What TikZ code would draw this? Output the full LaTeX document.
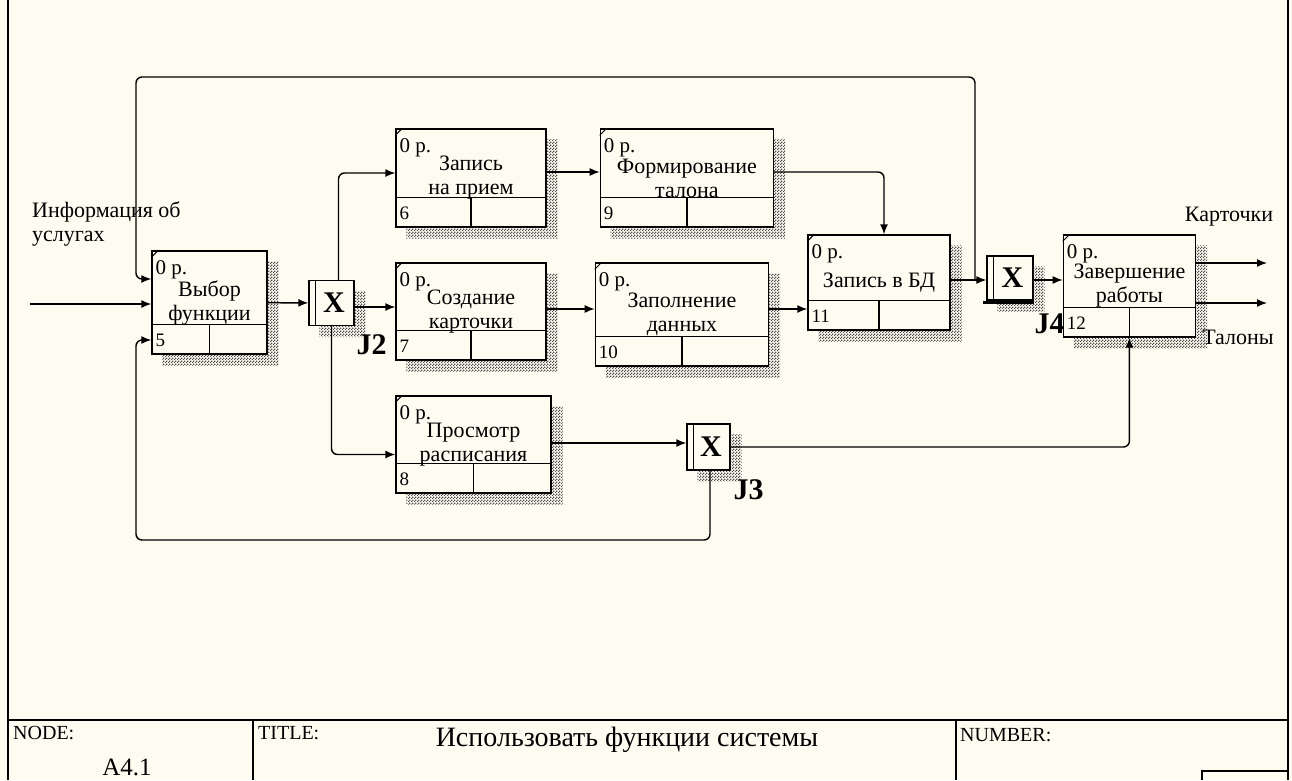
\documentclass[tikz,border=0pt]{standalone}
\usepackage{fontspec}
\setmainfont{Liberation Serif}
\usetikzlibrary{arrows.meta, positioning, patterns}
\definecolor{sheet}{HTML}{FEFBF1}
\pgfdeclarepatternformonly{checker}{\pgfqpoint{0pt}{0pt}}{\pgfqpoint{3pt}{3pt}}{\pgfqpoint{3pt}{3pt}}{%
    \pgfpathrectangle{\pgfqpoint{0pt}{0pt}}{\pgfqpoint{1.5pt}{1.5pt}}%
    \pgfpathrectangle{\pgfqpoint{1.5pt}{1.5pt}}{\pgfqpoint{1.5pt}{1.5pt}}%
    \pgfusepath{fill}}

\begin{document}
\begin{tikzpicture}[
        x=1pt, y=-1pt,
        uob/.style={rectangle, draw=black, line width=1.4pt, fill=sheet, inner sep=0pt, align=center, font=\fontsize{22}{24}\selectfont},
        junc/.style={rectangle, draw=black, line width=1.4pt, fill=sheet, inner sep=0pt, minimum width=45pt, minimum height=45pt, font=\fontsize{30}{30}\selectfont\bfseries},
        hatchshadow/.style={pattern=checker, pattern color=black!70},
        arrow/.style={-{Latex[length=10pt, width=8pt]}, line width=1.4pt, rounded corners=6pt},
        cost/.style={anchor=west, inner sep=0pt, font=\fontsize{21}{21}\selectfont},
        num/.style={anchor=west, inner sep=0pt, font=\fontsize{19}{19}\selectfont},
        jlabel/.style={inner sep=0pt, font=\fontsize{30}{30}\selectfont\bfseries},
        flowlabel/.style={inner sep=0pt, align=left, font=\fontsize{22}{24}\selectfont},
        tag/.style={anchor=west, inner sep=0pt, font=\fontsize{20}{20}\selectfont}
    ]
        \useasboundingbox (0,0) rectangle (1292,780);
        \fill[sheet] (0,0) rectangle (1292,780);

        % Frame
        \draw[line width=1.5pt] (8,0) -- (8,780);
        \draw[line width=1.5pt] (1288,0) -- (1288,780);
        \draw[line width=1.5pt] (8,720) -- (1288,720);
        \draw[line width=1.5pt] (253,720) -- (253,780);
        \draw[line width=1.5pt] (956,720) -- (956,780);
        \draw[line width=1.5pt] (1202,780) |- (1288,771);

        % Nodes
        \node (b5) [uob, minimum width=115pt, minimum height=103pt] at (209.5,302.5) {Выбор\\функции};
        \node (j2) [junc] at (331.5,303) {\hspace*{5pt}X};
        \node (b6) [uob, minimum width=150pt, minimum height=98pt] at (471,178) {Запись\\на прием};
        \node (b9) [uob, minimum width=173pt, minimum height=98pt, right=53pt of b6] {Формирование\\талона};
        \node (b7) [uob, minimum width=150pt, minimum height=97pt] at (471,311.5) {Создание\\карточки};
        \node (b10) [uob, minimum width=173pt, minimum height=103pt, right=48pt of b7, yshift=-3pt] {Заполнение\\данных};
        \node (b8) [uob, minimum width=155pt, minimum height=97pt] at (473.5,444.5) {Просмотр\\расписания};
        \node (j3) [junc, minimum width=43pt, minimum height=46pt] at (708.5,447) {\hspace*{5pt}X};
        \node (b11) [uob, minimum width=142pt, minimum height=95pt] at (879,282.5) {Запись в БД};
        \node (j4) [junc, minimum width=46pt, minimum height=44pt] at (1010,278) {\hspace*{5pt}X};
        \node (b12) [uob, minimum width=132pt, minimum height=102pt, right=29pt of j4, yshift=-8pt] {Завершение\\работы};

        % Shadows
        \foreach \n in {b5,b6,b9,b7,b10,b8,b11,b12,j2,j3,j4}
            \fill[hatchshadow] ([yshift=-11pt]\n.north east) -- ++(11pt,0) -- ([shift={(11pt,-11pt)}]\n.south east)
                -- ([shift={(11pt,-11pt)}]\n.south west) -- ([xshift=11pt]\n.south west) -- (\n.south east) -- cycle;

        % Box details
        \foreach \n/\k in {b5/5, b6/6, b9/9, b7/7, b10/10, b8/8, b11/11, b12/12} {
            \draw[line width=1.4pt] ([yshift=30pt]\n.south west) -- ([yshift=30pt]\n.south east);
            \draw[line width=1.4pt] (\n.south) -- ([yshift=30pt]\n.south);
            \draw[line width=1pt] ([yshift=-7pt]\n.north west) -- ([xshift=7pt]\n.north west);
            \node (\n-cost) [cost] at ([shift={(4pt,-19pt)}]\n.north west) {0 р.};
            \node (\n-num) [num] at ([shift={(4pt,14pt)}]\n.south west) {\k};
        }
        \foreach \n in {j2,j3,j4}
            \draw[line width=1.4pt] ([xshift=7pt]\n.north west) -- ([xshift=7pt]\n.south west);
        \draw[line width=3pt] ([shift={(-3pt,-2pt)}]j4.south west) -- ([yshift=-2pt]j4.south east);

        \node (j2-tag) [jlabel] at ([shift={(17pt,-19pt)}]j2.south east) {J2};
        \node (j3-tag) [jlabel] at ([shift={(18pt,-19pt)}]j3.south east) {J3};
        \node (j4-tag) [jlabel] at ([shift={(16pt,-23pt)}]j4.south east) {J4};

        % Labels
        \node (info) [flowlabel, anchor=west] at (32,224) {Информация об\\услугах};
        \node (kart) [flowlabel] at (1229,217) {Карточки};
        \node (talon) [flowlabel] at (1238,337) {Талоны};

        % Arrows
        \coordinate (in) at (30,304);
        \coordinate (fork) at (975,280);
        \coordinate (outK) at (1267,263);
        \coordinate (outT) at (1267,303);
        \draw [arrow] (in) -- (in -| b5.west);
        \draw [arrow] (b5) -- (j2);
        \draw [arrow] ([yshift=-4pt]j2.east) -- ([yshift=-4pt]j2.east -| b7.west);
        \draw [arrow] ([xshift=7pt]j2.north) |- ([yshift=5pt]b6.west);
        \draw [arrow] (j2.south) |- ([yshift=-10pt]b8.west);
        \draw [arrow] ([yshift=6pt]b6.east) -- ([yshift=6pt]b6.east -| b9.west);
        \draw [arrow] ([yshift=2.5pt]b7.east) -- ([yshift=2.5pt]b7.east -| b10.west);
        \draw [arrow] ([yshift=6pt]b9.east) -| ([xshift=5pt]b11.north);
        \draw [arrow] ([yshift=5.5pt]b10.east) -- ([yshift=5.5pt]b10.east -| b11.west);
        \draw [arrow] ([yshift=2.5pt]b11.east) -- ([yshift=2.5pt]b11.east -| j4.west);
        \draw [arrow] (fork) |- (136,77) |- ([yshift=23.5pt]b5.west);
        \draw [arrow] ([yshift=-2pt]j4.east) -- ([yshift=-2pt]j4.east -| b12.west);
        \draw [arrow] ([yshift=1.5pt]b8.east) -- ([yshift=1.5pt]b8.east -| j3.west);
        \draw [arrow] (j3.east) -| (b12.south);
        \draw [arrow] ([xshift=1.5pt]j3.south) |- (136,540) |- ([yshift=-37.5pt]b5.west);
        \draw [arrow] (outK -| b12.east) -- (outK);
        \draw [arrow] (outT -| b12.east) -- (outT);

        % Title block
        \node (nodetag) [tag] at (13,733) {NODE:};
        \node (nodeval) [inner sep=0pt, font=\fontsize{25}{25}\selectfont] at (127,767) {A4.1};
        \node (titletag) [tag] at (258,733) {TITLE:};
        \node (titleval) [inner sep=0pt, font=\fontsize{28}{28}\selectfont] at (627,740) {Использовать функции системы};
        \node (numtag) [tag] at (960,735) {NUMBER:};
    \end{tikzpicture}
\end{document}
